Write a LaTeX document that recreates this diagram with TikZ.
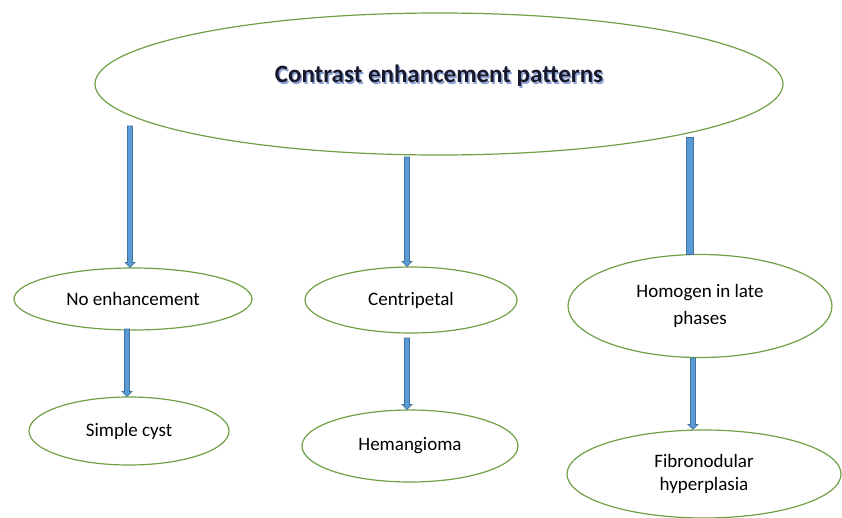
\documentclass[tikz,border=0pt]{standalone}
\usepackage{fontspec}
\setmainfont{Carlito}
\usetikzlibrary{shapes.geometric,calc}

\definecolor{ovalgreen}{RGB}{112,160,70}
\definecolor{arrowfill}{RGB}{91,155,213}
\definecolor{arrowline}{RGB}{65,113,156}
\definecolor{titleshadow}{RGB}{140,162,210}
\definecolor{titletext}{RGB}{25,25,45}

\tikzset{
    oval/.style = {ellipse, draw = ovalgreen, line width = 1.2pt, fill = white, inner sep = 0pt, align = center, font = \fontsize{19}{23}\selectfont},
    blockarrow/.style = {fill = arrowfill, draw = arrowline, line width = 0.8pt, line join = miter},
    titlefont/.style = {font = \fontsize{25}{30}\selectfont\bfseries}
}

% block arrow straight down from a coordinate to the top of a node
\newcommand{\blockdown}[3][5]{%
    \filldraw[blockarrow] ($(#2)+(-#1/2,0)$) -- ($(#2 |- #3.north)+(-#1/2,-5)$) -- ($(#2 |- #3.north)+(-#1/2-2.5,-5)$)
        -- (#2 |- #3.north) -- ($(#2 |- #3.north)+(#1/2+2.5,-5)$) -- ($(#2 |- #3.north)+(#1/2,-5)$) -- ($(#2)+(#1/2,0)$) -- cycle;}

\begin{document}
\begin{tikzpicture}[x = 1pt, y = -1pt]
        \useasboundingbox (0,0) rectangle (842,517);

        % top oval
        \node[oval, minimum width = 688, minimum height = 142] (patterns) at (439,84) {};
        \node[titlefont, text = titleshadow] (titleshadow) at (440.5,77.5) {Contrast enhancement patterns};
        \node[titlefont, text = titletext] (title) at (439,76) {Contrast enhancement patterns};

        % second row
        \node[oval, minimum width = 238, minimum height = 62] (none) at (133,299) {No enhancement};
        \node[oval, minimum width = 212, minimum height = 66] (centri) at (411,300) {Centripetal};
        \node[oval, minimum width = 264, minimum height = 103, font = \fontsize{19}{27}\selectfont] (homog) at (700,306) {Homogen in late\\phases};

        % third row
        \node[oval, minimum width = 200, minimum height = 68] (cyst) at (129,431) {Simple cyst};
        \node[oval, minimum width = 216, minimum height = 72] (hema) at (410,446) {Hemangioma};
        \node[oval, minimum width = 274, minimum height = 88] (fnh) at (704,474) {Fibronodular\\hyperplasia};

        % arrows
        \coordinate (a1) at (130,126);
        \coordinate (a2) at (127,329);
        \coordinate (b1) at (407,157);
        \coordinate (b2) at (407,338);
        \coordinate (c1) at (690,137);
        \coordinate (c2) at (693,358);
        \blockdown{a1}{none}
        \blockdown{a2}{cyst}
        \blockdown{b1}{centri}
        \blockdown{b2}{hema}
        \filldraw[blockarrow] ($(c1)+(-3.5,0)$) rectangle ($(c1 |- homog.north)+(3.5,0)$);
        \blockdown{c2}{fnh}
    \end{tikzpicture}
\end{document}
